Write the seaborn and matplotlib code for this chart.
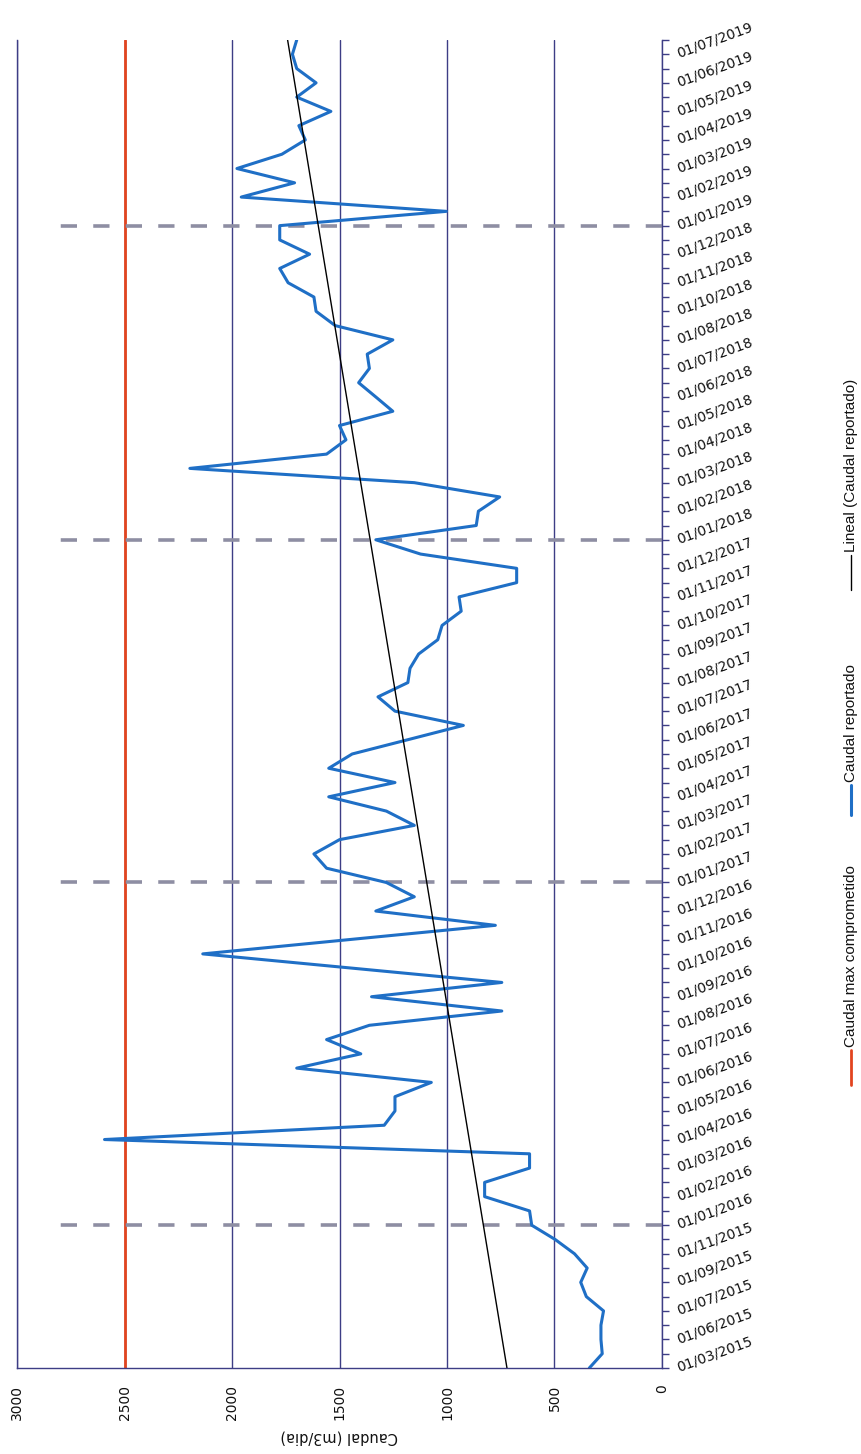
import numpy as np
import pandas as pd
import matplotlib
matplotlib.use("Agg")
import matplotlib.pyplot as plt
from matplotlib.lines import Line2D
import seaborn as sns

# Sampling-date labels (one label every second reading)
tick_labels = [
    "01/03/2015", "01/06/2015", "01/07/2015", "01/09/2015", "01/11/2015",
    "01/01/2016", "01/02/2016", "01/03/2016", "01/04/2016", "01/05/2016",
    "01/06/2016", "01/07/2016", "01/08/2016", "01/09/2016", "01/10/2016",
    "01/11/2016", "01/12/2016", "01/01/2017", "01/02/2017", "01/03/2017",
    "01/04/2017", "01/05/2017", "01/06/2017", "01/07/2017", "01/08/2017",
    "01/09/2017", "01/10/2017", "01/11/2017", "01/12/2017", "01/01/2018",
    "01/02/2018", "01/03/2018", "01/04/2018", "01/05/2018", "01/06/2018",
    "01/07/2018", "01/08/2018", "01/10/2018", "01/11/2018", "01/12/2018",
    "01/01/2019", "01/02/2019", "01/03/2019", "01/04/2019", "01/05/2019",
    "01/06/2019", "01/07/2019",
]

# Reported flow per reading (m3/dia)
caudal = [
    338, 278, 284, 284, 272, 352, 378, 348, 407, 497,
    606, 616, 825, 825, 616, 616, 2593, 1292, 1242, 1242,
    1073, 1699, 1401, 1560, 1361, 745, 1351, 745, 1440, 2136,
    1456, 775, 1331, 1152, 1282, 1560, 1619, 1500, 1152, 1282,
    1550, 1242, 1550, 1441, 1182, 924, 1242, 1321, 1182, 1172,
    1132, 1043, 1023, 934, 944, 676, 676, 1123, 1331, 864,
    854, 755, 1152, 2196, 1560, 1470, 1500, 1252, 1331, 1411,
    1361, 1371, 1252, 1520, 1609, 1619, 1739, 1778, 1639, 1778,
    1778, 1003, 1957, 1709, 1977, 1768, 1659, 1689, 1540, 1699,
    1609, 1699, 1719, 1699,
]

caudal_max = 2500
value_ticks = [0, 500, 1000, 1500, 2000, 2500, 3000]
year_line_len = 2840

legend_labels = ["Caudal max comprometido", "Caudal reportado",
                 "Lineal (Caudal reportado)"]

BLUE = "#1f6fc6"
RED = "#e2441f"
NAVY = "#3d3d85"
DASH = "#8e8ea3"

sns.set_theme(style="white")
plt.rcParams["font.family"] = ["DejaVu Sans"]

W, H = 862, 1454
fig = plt.figure(figsize=(W / 100, H / 100), dpi=100)
fig.patch.set_facecolor("white")
ax = fig.add_axes([17 / W, 1 - 1368 / H, (662 - 17) / W, (1368 - 40) / H])

pos = np.arange(len(caudal))
df = pd.DataFrame({"pos": pos, "caudal": caudal})

# vertical grid (flow values)
ax.set_xlim(3000, 0)
ax.set_ylim(0, len(caudal) - 1)
ax.set_xticks(value_ticks)
ax.grid(axis="x", color=NAVY, linewidth=1.0)
ax.grid(axis="y", visible=False)
ax.set_axisbelow(True)

# committed maximum flow
ax.axvline(caudal_max, color=RED, linewidth=2.0, zorder=2)

# year-start reference lines
label_pos = np.arange(0, 2 * len(tick_labels), 2)
year_pos = [p for p, lab in zip(label_pos, tick_labels) if lab.startswith("01/01/")]
ax.hlines(year_pos, 0, year_line_len, colors=DASH, linewidth=2.6,
          linestyles=(0, (4.5, 4.5)), zorder=2)

# reported flow
sns.lineplot(data=df, x="caudal", y="pos", orient="y", sort=False,
             estimator=None, color=BLUE, linewidth=2.2, ax=ax, zorder=3)

# linear trend of the reported flow
coef = np.polyfit(pos, caudal, 1)
trend = np.polyval(coef, pos)
sns.lineplot(x=trend, y=pos, orient="y", sort=False, estimator=None,
             color="black", linewidth=1.0, ax=ax, zorder=4)

# axes styling
for side in ["left", "bottom", "right"]:
    ax.spines[side].set_visible(True)
    ax.spines[side].set_color(NAVY)
    ax.spines[side].set_linewidth(1.0)
ax.spines["top"].set_visible(False)

ax.yaxis.tick_right()
ax.set_yticks(label_pos)
ax.set_yticks(pos, minor=True)
ax.set_yticklabels(tick_labels)
for t in ax.get_yticklabels():
    t.set_rotation(20)
    t.set_rotation_mode("anchor")
    t.set_ha("left")
    t.set_va("center")
ax.tick_params(axis="y", which="both", direction="out", length=5,
               width=1, color=NAVY, pad=6, labelsize=10, labelcolor="#111111",
               right=True, left=False)

ax.set_xticklabels([str(v) for v in value_ticks])
for t in ax.get_xticklabels():
    t.set_rotation(90)
    t.set_va("top")
    t.set_ha("center")
ax.tick_params(axis="x", length=0, pad=12, labelsize=10, labelcolor="#111111")

ax.set_ylabel("")
ax.set_xlabel("Caudal (m3/dia)", fontsize=10.5, rotation=180, color="#111111")
ax.xaxis.set_label_coords(0.5, -0.052)
ax.xaxis.label.set_va("center")

# legend, written along the right edge
legend_x = 851 / W
items = [
    (legend_labels[0], RED, 2.0, 1085, 1050),
    (legend_labels[1], BLUE, 2.2, 815, 785),
    (legend_labels[2], "black", 1.0, 590, 555),
]
for text, color, lw, y0, y1 in items:
    fig.add_artist(Line2D([legend_x, legend_x], [1 - y0 / H, 1 - y1 / H],
                          color=color, linewidth=lw, transform=fig.transFigure))
    fig.text(legend_x, 1 - (y1 - 3) / H, text, rotation=90, ha="center",
             va="bottom", fontsize=11, family=["Liberation Sans"],
             color="#111111")

fig.savefig("out.png", dpi=100, facecolor="white")
